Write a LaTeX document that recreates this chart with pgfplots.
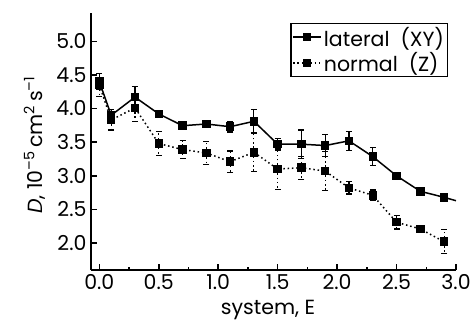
\documentclass[border=0pt]{standalone}
\usepackage{fontspec}
\setmainfont{Poppins}
\usepackage{pgfplots}
\usepackage{pgfplotstable}
\pgfplotsset{compat=1.18}
\pgfplotstableread{
x y e
0.0 4.40 0.12
0.1 3.90 0.08
0.3 4.17 0.16
0.5 3.92 0.03
0.7 3.745 0.05
0.9 3.77 0.05
1.1 3.73 0.08
1.3 3.81 0.18
1.5 3.47 0.09
1.7 3.47 0.21
1.9 3.45 0.16
2.1 3.52 0.14
2.3 3.285 0.13
2.5 3.00 0.03
2.7 2.77 0.02
2.9 2.68 0.04
}\lateral
\pgfplotstableread{
x y e
0.0 4.35 0.17
0.1 3.83 0.15
0.3 4.01 0.20
0.5 3.48 0.18
0.7 3.39 0.13
0.9 3.34 0.17
1.1 3.21 0.16
1.3 3.35 0.29
1.5 3.10 0.30
1.7 3.12 0.17
1.9 3.07 0.29
2.1 2.82 0.09
2.3 2.71 0.08
2.5 2.31 0.10
2.7 2.21 0.05
2.9 2.02 0.18
}\normal
\begin{document}
\begin{tikzpicture}
\useasboundingbox (0,0) rectangle (474pt,325pt);
\begin{axis}[
  at={(91pt,55pt)}, anchor=south west,
  scale only axis, width=365pt, height=257pt,
  xmin=-0.07, xmax=3.0, ymin=1.6, ymax=5.42,
  axis x line*=bottom, axis y line*=left,
  axis line style={line width=1.8pt},
  every axis plot/.append style={line width=1.5pt},
  xtick={0,0.5,...,3.0}, minor xtick={0.25,0.75,...,2.75},
  ytick={2.0,2.5,...,5.0},
  tick align=inside,
  major tick length=6pt, minor tick length=3pt,
  every tick/.style={black, line width=1.5pt},
  /pgf/number format/fixed,
  /pgf/number format/fixed zerofill,
  /pgf/number format/precision=1,
  /pgf/number format/assume math mode=true,
  font=\fontsize{20.5}{24}\selectfont,
  xticklabel style={yshift=-1pt},
  yticklabel style={xshift=-1pt},
  xlabel={system, E},
  ylabel={\textit{D}, 10\textsuperscript{\textendash 5}\,cm\textsuperscript{2}\,s\textsuperscript{\textendash 1}},
  xlabel style={at={(axis description cs:0.485,-0.155)}, anchor=center},
  ylabel style={at={(axis description cs:-0.155,0.486)}, anchor=center},
  legend style={at={(0.978,0.962)}, anchor=north east, draw=black, line width=1.3pt,
    font=\fontsize{20.5}{24}\selectfont, inner sep=1.5pt, row sep=1pt,
    legend cell align=left},
  legend image code/.code={
    \draw[mark repeat=2,mark phase=2,#1] plot coordinates {(0pt,0pt) (14pt,0pt) (28pt,0pt)};
  },
  legend image post style={line width=1.5pt},
  error bars/error bar style={line width=1.2pt},
  error bars/error mark options={rotate=90, mark size=3pt, line width=1.2pt},
]
\addplot[black, mark=square*, mark size=3.5pt, error bars/.cd, y dir=both, y explicit]
  table[x=x, y=y, y error=e] {\lateral};
\addlegendentry{lateral\ \ (XY)}
\addplot[black, dash pattern=on 1.5pt off 2.8pt, mark=square*, mark size=3.5pt, mark options={solid}, error bars/.cd, y dir=both, y explicit]
  table[x=x, y=y, y error=e] {\normal};
\addlegendentry{normal\ \ (Z)}
\addplot[black, forget plot] coordinates {(2.9,2.68) (3.0,2.63)};
\end{axis}
\end{tikzpicture}
\end{document}
